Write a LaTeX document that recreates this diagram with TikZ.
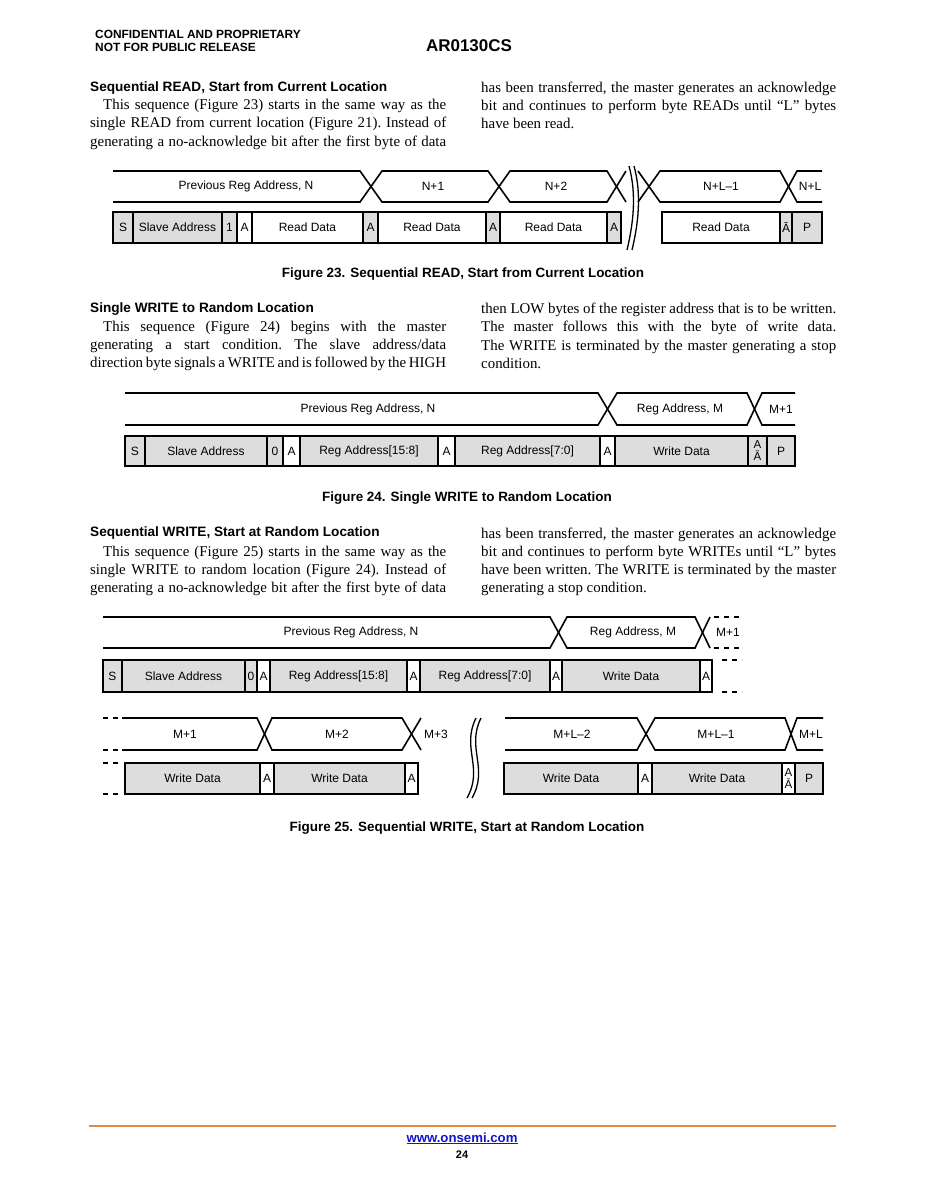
\documentclass[tikz,border=0pt]{standalone}
\usepackage{fontspec}
\setmainfont{Liberation Serif}
\newfontfamily\hv{Liberation Sans}
\definecolor{bxgray}{RGB}{221,221,221}
\definecolor{onorange}{RGB}{228,138,62}
\definecolor{linkblue}{RGB}{20,20,205}
\newcommand\tbox[7]{\node[bx,#6,minimum width=#3pt-#2pt,minimum height=#5pt-#4pt] (#1) at (#2,#4) {#7};}
\newcommand\jlL[1]{\makebox[356pt][s]{#1}}
\newcommand\jlR[1]{\makebox[355pt][s]{#1}}
\newcommand\bodyfont{\fontsize{14.9}{18.3}\selectfont\frenchspacing}
\newcommand\ind{\hspace*{13pt}}
\begin{document}
\begin{tikzpicture}[x=1pt,y=-1pt,
  bus/.style={line width=1.6pt, line join=miter},
  dsh/.style={line width=1.6pt, dash pattern=on 5pt off 5pt},
  bx/.style={draw, line width=1.8pt, inner sep=0pt, outer sep=0pt, anchor=north west, font=\hv\fontsize{12}{13}\selectfont},
  gr/.style={fill=bxgray},
  wh/.style={fill=white},
  stk/.style={align=center, font=\hv\fontsize{11.5}{12}\selectfont},
  lbl/.style={font=\hv\fontsize{12}{13}\selectfont, inner sep=0pt},
  para/.style={anchor=base west, inner sep=0pt},
  sechead/.style={anchor=base west, inner sep=0pt, font=\hv\bfseries\fontsize{13.6}{15}\selectfont},
  figcap/.style={anchor=base, inner sep=0pt, font=\hv\bfseries\fontsize{13.45}{15}\selectfont},
  brk/.style={line width=1.3pt}
]
\fill[white] (0,0) rectangle (926,1198);
\useasboundingbox (0,0) rectangle (926,1198);

% ---------- header ----------
\node[anchor=base west, inner sep=0pt, font=\hv\bfseries\fontsize{11.9}{13}\selectfont] (hdr1) at (95,38.3) {CONFIDENTIAL AND PROPRIETARY};
\node[anchor=base west, inner sep=0pt, font=\hv\bfseries\fontsize{11.9}{13}\selectfont] (hdr2) at (95,51.7) {NOT FOR PUBLIC RELEASE};
\node[anchor=base, inner sep=0pt, font=\hv\bfseries\fontsize{17}{20}\selectfont] (title) at (469,51.7) {AR0130CS};

% ---------- section 1 ----------
\node[sechead] (h1) at (90,92) {Sequential READ, Start from Current Location};
\node[para] (p1l) at (90,109.5) {\parbox[t]{356pt}{\bodyfont
\jlL{\ind This sequence (Figure 23) starts in the same way as the}\\
\jlL{single READ from current location (Figure 21). Instead of}\\
\jlL{generating a no-acknowledge bit after the first byte of data}}};
\node[para] (p1r) at (481,92.3) {\parbox[t]{355pt}{\bodyfont
\jlR{has been transferred, the master generates an acknowledge}\\
\jlR{bit and continues to perform byte READs until “L” bytes}\\
have been read.}};

% ---------- figure 23 ----------
\draw[bus] (113,171) -- (360,171) -- (382,202) -- (488,202) -- (510,171) -- (607,171) -- (626,202);
\draw[bus] (113,202) -- (360,202) -- (382,171) -- (488,171) -- (510,202) -- (607,202) -- (626,171);
\draw[bus] (638,171) -- (660,202) -- (780,202) -- (797,171) -- (822,171);
\draw[bus] (638,202) -- (660,171) -- (780,171) -- (797,202) -- (822,202);
\draw[brk] (629,166) .. controls (637,195) and (633,225) .. (627,250);
\draw[brk] (634,166) .. controls (642,195) and (638,225) .. (632,250);
\node[lbl] (t23a) at (246,186.5) {Previous Reg Address, N};
\node[lbl] (t23b) at (433,186.5) {N+1};
\node[lbl] (t23c) at (556,186.5) {N+2};
\node[lbl] (t23d) at (721,186.5) {N+L–1};
\node[lbl] (t23e) at (810,186.5) {N+L};
\tbox{a1}{113}{133}{212}{243}{gr}{S}
\tbox{a2}{133}{222}{212}{243}{gr}{Slave Address}
\tbox{a3}{222}{237}{212}{243}{gr}{1}
\tbox{a4}{237}{252}{212}{243}{wh}{A}
\tbox{a5}{252}{363}{212}{243}{wh}{Read Data}
\tbox{a6}{363}{378}{212}{243}{gr}{A}
\tbox{a7}{378}{486}{212}{243}{wh}{Read Data}
\tbox{a8}{486}{500}{212}{243}{gr}{A}
\tbox{a9}{500}{607}{212}{243}{wh}{Read Data}
\tbox{a10}{607}{621}{212}{243}{gr}{A}
\tbox{a11}{662}{780}{212}{243}{wh}{Read Data}
\tbox{a12}{780}{792}{212}{243}{gr}{\=A}
\tbox{a13}{792}{822}{212}{243}{gr}{P}
\node[figcap] (c23) at (463,277) {Figure 23. Sequential READ, Start from Current Location};

% ---------- section 2 ----------
\node[sechead] (h2) at (90,312.5) {Single WRITE to Random Location};
\node[para] (p2l) at (90,331.3) {\parbox[t]{356pt}{\bodyfont
\jlL{\ind This sequence (Figure 24) begins with the master}\\
\jlL{generating a start condition. The slave address/data}\\
\jlL{direction byte signals a WRITE and is followed by the HIGH}}};
\node[para] (p2r) at (481,313.5) {\parbox[t]{355pt}{\bodyfont
\jlR{then LOW bytes of the register address that is to be written.}\\
\jlR{The master follows this with the byte of write data.}\\
\jlR{The WRITE is terminated by the master generating a stop}\\
condition.}};

% ---------- figure 24 ----------
\draw[bus] (125,393) -- (598,393) -- (617,425) -- (747,425) -- (762,393) -- (795,393);
\draw[bus] (125,425) -- (598,425) -- (617,393) -- (747,393) -- (762,425) -- (795,425);
\node[lbl] (t24a) at (368,409) {Previous Reg Address, N};
\node[lbl] (t24b) at (680,409) {Reg Address, M};
\node[lbl] (t24c) at (781,409) {M+1};
\tbox{b1}{125}{145}{436}{466}{gr}{S}
\tbox{b2}{145}{267}{436}{466}{gr}{Slave Address}
\tbox{b3}{267}{283}{436}{466}{gr}{0}
\tbox{b4}{283}{300}{436}{466}{wh}{A}
\tbox{b5}{300}{438}{436}{466}{gr}{Reg Address[15:8]}
\tbox{b6}{438}{455}{436}{466}{wh}{A}
\tbox{b7}{455}{600}{436}{466}{gr}{Reg Address[7:0]}
\tbox{b8}{600}{615}{436}{466}{wh}{A}
\tbox{b9}{615}{748}{436}{466}{gr}{Write Data}
\tbox{b10}{748}{767}{436}{466}{gr,stk}{A\\\=A}
\tbox{b11}{767}{795}{436}{466}{gr}{P}
\node[figcap] (c24) at (467,501) {Figure 24. Single WRITE to Random Location};

% ---------- section 3 ----------
\node[sechead] (h3) at (90,536.7) {Sequential WRITE, Start at Random Location};
\node[para] (p3l) at (90,556) {\parbox[t]{356pt}{\bodyfont
\jlL{\ind This sequence (Figure 25) starts in the same way as the}\\
\jlL{single WRITE to random location (Figure 24). Instead of}\\
\jlL{generating a no-acknowledge bit after the first byte of data}}};
\node[para] (p3r) at (481,538) {\parbox[t]{355pt}{\bodyfont
\jlR{has been transferred, the master generates an acknowledge}\\
\jlR{bit and continues to perform byte WRITEs until “L” bytes}\\
\jlR{have been written. The WRITE is terminated by the master}\\
generating a stop condition.}};

% ---------- figure 25, row 1 ----------
\draw[bus] (103,617) -- (550,617) -- (567,648) -- (695,648) -- (710,617);
\draw[bus] (103,648) -- (550,648) -- (567,617) -- (695,617) -- (710,648);
\draw[dsh] (714,617) -- (742,617);
\draw[dsh] (714,648) -- (742,648);
\node[lbl] (t25a) at (351,632.5) {Previous Reg Address, N};
\node[lbl] (t25b) at (633,632.5) {Reg Address, M};
\node[lbl] (t25c) at (728,632.5) {M+1};
\tbox{c1}{103}{122}{660}{692}{gr}{S}
\tbox{c2}{122}{245}{660}{692}{gr}{Slave Address}
\tbox{c3}{245}{257}{660}{692}{gr}{0}
\tbox{c4}{257}{270}{660}{692}{wh}{A}
\tbox{c5}{270}{407}{660}{692}{gr}{Reg Address[15:8]}
\tbox{c6}{407}{420}{660}{692}{wh}{A}
\tbox{c7}{420}{550}{660}{692}{gr}{Reg Address[7:0]}
\tbox{c8}{550}{562}{660}{692}{wh}{A}
\tbox{c9}{562}{700}{660}{692}{gr}{Write Data}
\tbox{c10}{700}{712}{660}{692}{wh}{A}
\draw[dsh] (722,660) -- (742,660);
\draw[dsh] (722,692) -- (742,692);

% ---------- figure 25, row 2 ----------
\draw[dsh] (103,718) -- (121,718);
\draw[dsh] (103,750) -- (121,750);
\draw[bus] (122,718) -- (257,718) -- (272,750) -- (402,750) -- (421,718);
\draw[bus] (122,750) -- (257,750) -- (272,718) -- (402,718) -- (421,750);
\node[lbl] (t25d) at (185,734) {M+1};
\node[lbl] (t25e) at (337,734) {M+2};
\node[lbl] (t25f) at (436,734) {M+3};
\draw[dsh] (103,763) -- (121,763);
\draw[dsh] (103,794) -- (121,794);
\tbox{d1}{125}{260}{763}{794}{gr}{Write Data}
\tbox{d2}{260}{274}{763}{794}{wh}{A}
\tbox{d3}{274}{405}{763}{794}{gr}{Write Data}
\tbox{d4}{405}{418}{763}{794}{wh}{A}
\draw[brk] (476,718) .. controls (461,748) and (484,768) .. (467,798);
\draw[brk] (481,718) .. controls (466,748) and (489,768) .. (472,798);
\draw[bus] (505,718) -- (637,718) -- (655,750) -- (785,750) -- (797,718) -- (823,718);
\draw[bus] (505,750) -- (637,750) -- (655,718) -- (785,718) -- (797,750) -- (823,750);
\node[lbl] (t25g) at (572,734) {M+L–2};
\node[lbl] (t25h) at (716,734) {M+L–1};
\node[lbl] (t25i) at (811,734) {M+L};
\tbox{e1}{504}{638}{763}{794}{gr}{Write Data}
\tbox{e2}{638}{652}{763}{794}{wh}{A}
\tbox{e3}{652}{782}{763}{794}{gr}{Write Data}
\tbox{e4}{782}{795}{763}{794}{wh,stk}{A\\\=A}
\tbox{e5}{795}{823}{763}{794}{gr}{P}
\node[figcap] (c25) at (467,831) {Figure 25. Sequential WRITE, Start at Random Location};

% ---------- footer ----------
\draw[line width=2.6pt, onorange] (89,1126) -- (836,1126);
\node[anchor=base, inner sep=0pt, font=\hv\bfseries\fontsize{13.2}{14}\selectfont, text=linkblue] (url) at (462,1142) {\underline{www.onsemi.com}};
\node[anchor=base, inner sep=0pt, font=\hv\bfseries\fontsize{11}{13}\selectfont] (pg) at (462,1158) {24};
\end{tikzpicture}
\end{document}
